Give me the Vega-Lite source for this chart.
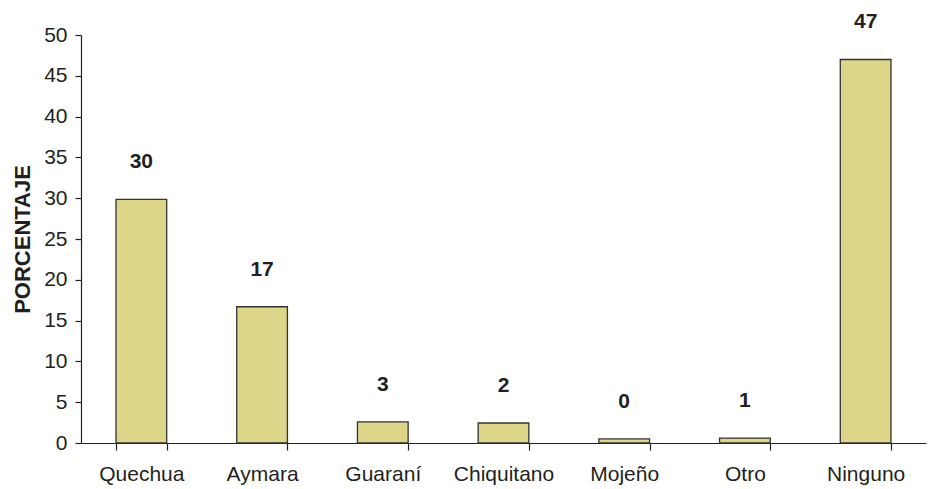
{
  "$schema": "https://vega.github.io/schema/vega-lite/v6.json",
  "width": 845,
  "height": 408,
  "autosize": {"type": "none"},
  "padding": {"left": 81, "top": 35, "right": 2, "bottom": 46},
  "background": "white",
  "config": {
    "view": {"stroke": null},
    "font": "Liberation Sans",
    "axis": {"grid": false, "domainColor": "#231f20", "tickColor": "#231f20", "labelColor": "#231f20", "titleColor": "#231f20", "labelFont": "Liberation Sans", "titleFont": "Liberation Sans"}
  },
  "data": {
    "values": [
      {"idioma": "Quechua", "pct": 29.85, "label": "30"},
      {"idioma": "Aymara", "pct": 16.7, "label": "17"},
      {"idioma": "Guaraní", "pct": 2.6, "label": "3"},
      {"idioma": "Chiquitano", "pct": 2.45, "label": "2"},
      {"idioma": "Mojeño", "pct": 0.5, "label": "0"},
      {"idioma": "Otro", "pct": 0.6, "label": "1"},
      {"idioma": "Ninguno", "pct": 47.0, "label": "47"}
    ]
  },
  "encoding": {
    "x": {
      "field": "idioma", "type": "nominal", "sort": null,
      "scale": {"paddingInner": 0.58, "paddingOuter": 0.29},
      "axis": {"title": null, "labelAngle": 0, "labelFontSize": 21, "labelPadding": 13, "tickBand": "extent", "tickSize": 7, "domainWidth": 1.2, "tickWidth": 1.2}
    },
    "y": {
      "field": "pct", "type": "quantitative",
      "scale": {"domain": [0, 50], "nice": false},
      "axis": {"title": "PORCENTAJE", "values": [0,5,10,15,20,25,30,35,40,45,50], "labelFontSize": 21, "labelPadding": 8, "tickSize": 6, "domainWidth": 1.2, "tickWidth": 1.2, "titleFontSize": 22, "titleFontWeight": "bold", "titleX": -59, "titleY": 204, "titleAngle": 270, "titleAlign": "center", "titleBaseline": "middle"}
    }
  },
  "layer": [
    {"mark": {"type": "bar", "fill": "#ddd689", "stroke": "#333333", "strokeWidth": 1.3}},
    {"mark": {"type": "text", "fontSize": 21, "fontWeight": "bold", "color": "#231f20", "baseline": "middle", "dy": -37}, "encoding": {"text": {"field": "label"}}}
  ]
}
